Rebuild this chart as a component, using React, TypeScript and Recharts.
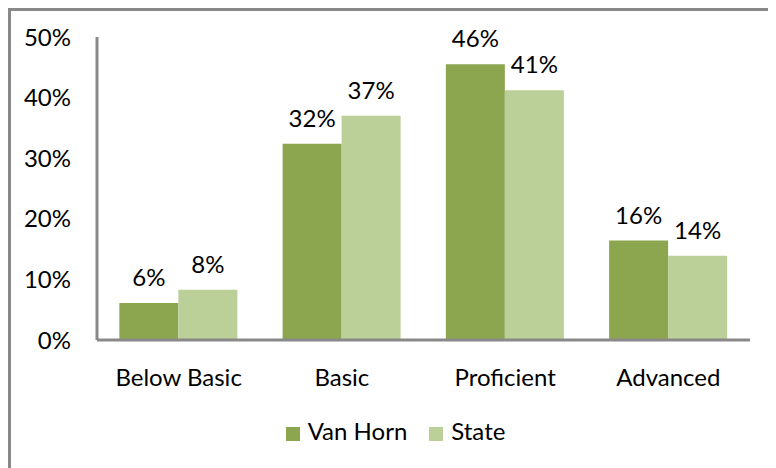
import React from "react";
import { BarChart, Bar, XAxis, YAxis, Legend, LabelList } from "recharts";

const categories = ["Below Basic", "Basic", "Proficient", "Advanced"];
const vanHorn = [6.1, 32.4, 45.5, 16.4];
const state = [8.3, 37, 41.2, 13.9];
const yTicks = [0, 10, 20, 30, 40, 50];

const data = categories.map((c, i) => ({ name: c, vanHorn: vanHorn[i], state: state[i] }));

const FONT = "Lato, 'Open Sans', sans-serif";
const AXIS = "#898989";
const FS = 24;

export default function App() {
  const fmt = (v: any) => `${Math.round(Number(v))}%`;
  const order: Record<string, number> = { vanHorn: 0, state: 1 };
  return (
    <div
      style={{
        borderTop: `3px solid ${AXIS}`,
        borderLeft: `3px solid ${AXIS}`,
        width: 765,
        height: 457,
        fontFamily: FONT,
      }}
    >
      <BarChart
        width={765}
        height={457}
        data={data}
        margin={{ top: 26, right: 26, left: 0, bottom: 23 }}
        barCategoryGap="13.7%"
        barGap={0}
      >
        <XAxis
          dataKey="name"
          axisLine={{ stroke: AXIS, strokeWidth: 3 }}
          tickLine={false}
          tickSize={0}
          tickMargin={29}
          height={76}
          tick={{ fill: "#000", fontSize: FS, fontFamily: FONT }}
        />
        <YAxis
          domain={[0, 50]}
          ticks={yTicks}
          width={86}
          axisLine={{ stroke: AXIS, strokeWidth: 3 }}
          tickLine={false}
          tickSize={0}
          tickMargin={26}
          tickFormatter={(v: number) => `${v}%`}
          tick={{ fill: "#000", fontSize: FS, fontFamily: FONT }}
        />
        <Legend
          verticalAlign="bottom"
          align="center"
          iconType="square"
          iconSize={14}
          itemSorter={(item: any) => order[String(item.dataKey)] ?? 0}
          wrapperStyle={{ fontSize: FS, fontFamily: FONT, color: "#000", paddingLeft: 26 }}
          formatter={(value: string) => (
            <span style={{ color: "#000", marginLeft: 4, marginRight: 12 }}>{value}</span>
          )}
        />
        <Bar dataKey="vanHorn" name="Van Horn" fill="#8BA64F" isAnimationActive={false}>
          <LabelList dataKey="vanHorn" position="top" offset={17} formatter={fmt} fill="#000" fontSize={FS} fontFamily={FONT} />
        </Bar>
        <Bar dataKey="state" name="State" fill="#BBCF98" isAnimationActive={false}>
          <LabelList dataKey="state" position="top" offset={17} formatter={fmt} fill="#000" fontSize={FS} fontFamily={FONT} />
        </Bar>
      </BarChart>
    </div>
  );
}
